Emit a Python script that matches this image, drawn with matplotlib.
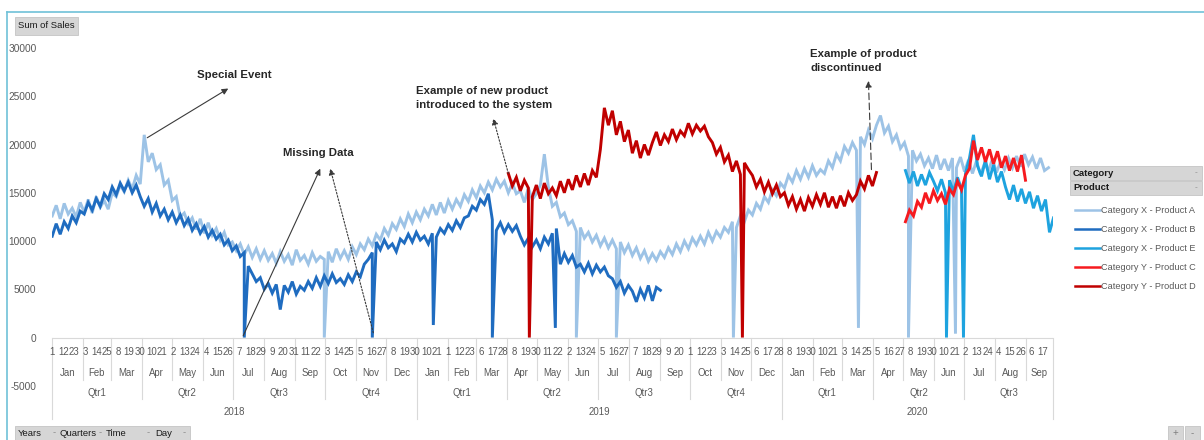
import numpy as np
import pandas as pd
import matplotlib.pyplot as plt
from matplotlib.patches import Rectangle
from matplotlib.lines import Line2D

FONT = ['Liberation Sans Narrow', 'Liberation Sans', 'DejaVu Sans']
plt.rcParams['font.family'] = FONT
plt.rcParams['axes.unicode_minus'] = False

W, H = 1204, 440
START = pd.Timestamp('2018-01-01')
END = pd.Timestamp('2020-09-27')
STEP = 4          # days between readings in each series
GREY = '#595959'

# ─── Sales readings (one value every STEP days from the start date) ─────────────
prod_a_start = '2018-01-01'
prod_a = [
    12600, 13700, 12300, 13900, 12800, 13400, 12500, 14000,
    13000, 14300, 12900, 14600, 13500, 14200, 13300, 15000,
    14600, 15800, 15100, 16300, 15400, 16800, 15900, 21000,
    18200, 19100, 17400, 17900, 15800, 16300, 14200, 14600, 12500, 12900, 11800, 12400,
    11200, 12300, 10800, 11900, 10600, 11300, 10100, 10900, 9600,
    9900, 9000, 9700, 8600, 9400, 8300, 9200, 8100, 9000, 8000,
    8700, 7700, 8900, 7900, 8600, 7500, 9100, 8000, 8500, 7600, 8800, 7900, 8400,
    8100, 8900, 7800, 9200, 8200, 9000, 8100, 9400,
    8600, 9700, 9100, 10200, 9500, 10700, 10100, 11300,
    10600, 11800, 11200, 12300, 11500, 12800, 11900, 13000,
    12200, 13300, 12600, 13800, 12700, 14000, 12900, 14200, 13300,
    14300, 13600, 14800, 14100, 15300, 14500, 15700, 15000,
    16100, 15300, 16400, 15600, 16200, 15000, 16000, 14900,
    15200, 14000, 15500, 14300, 14900, 15800, 19000,
    15600, 13600, 14000, 12500, 12900, 11700, 12100, 11000,
    11400, 10300, 10900, 9900, 10600, 9500, 10300, 9300, 10100,
    9200, 9900, 8800, 9600, 8500, 9300, 8200, 9000, 7900, 8700,
    8000, 8900, 8300, 9300, 8600, 9700, 8900, 10000,
    9200, 10300, 9600, 10500, 9700, 10900, 10000, 11000,
    10400, 11400, 10900, 12000, 11400, 12600, 12000, 13200, 12700,
    13900, 13300, 14600, 14000, 15300, 14700, 16000, 15500,
    16800, 16100, 17300, 16400, 17500, 16600, 17800, 16800,
    17400, 17000, 18300, 17600, 19000, 18300, 19800, 19100,
    20200, 19400, 20800, 20000, 21500, 20600, 22000, 23000,
    21200, 21900, 20300, 21000, 19600, 20200, 18800, 19400, 18300,
    19000, 17800, 18600, 17500, 18900, 17400, 18500, 17300, 18600,
    17600, 18700, 17200, 18400, 17000, 18300, 16900, 18000,
    17300, 18500, 17100, 18200, 17400, 18600, 17600, 18800,
    17700, 19000, 17900, 18700, 17500, 18600, 17300, 17600,
]
prod_a_gaps = ['2018-09-30', '2019-06-09', '2019-07-19', '2019-11-13',
               '2020-03-17', '2020-05-06', '2020-06-22']
prod_a_gap_vals = [0, 0, 0, 0, 1000, 0, 400]

prod_b_start = '2018-01-01'
prod_b = [
    10500, 11800, 10700, 12000, 11300, 12600, 11900, 13100,
    12800, 14000, 13200, 14400, 13600, 14900, 14300, 15600, 14800, 16000,
    15200, 16100, 15000, 15800, 14600, 13600, 14400,
    13000, 13900, 12600, 13300, 12200, 13000, 11900, 12700,
    11600, 12300, 11100, 11800, 10800, 11500, 10400, 11100, 10200,
    10700, 9600, 10100, 9000, 9500, 8400,
    8800, 7400, 6600, 5800, 6200, 5000, 5600,
    4600, 5500, 2900, 5400, 4700, 5800, 4500, 5300, 4900,
    5800, 5100, 6200, 5300, 6400, 5600, 6600, 5700,
    6100, 5500, 6500, 5800, 6800, 6300, 7600, 8100,
    8800, 9900, 9100, 10100, 9300, 9700, 8900, 10200,
    9800, 10700, 9900, 10900, 10100, 10500, 9700, 10800,
    10400, 11300, 10800, 11700, 11100, 12100, 11400, 12400,
    12600, 13600, 13200, 14300, 13800, 14900,
    12200, 11100, 11900, 10900, 11700, 11000, 11600,
    10500, 9600, 10300, 9400, 10100, 9200, 10400, 9700,
    10800, 11300,
    7600, 8700, 7800, 8500, 7300,
    7600, 6800, 7700, 6600, 7500, 6800, 7300, 6400,
    6100, 5200, 5800, 4600, 5400, 4800,
    3700, 5000, 4100, 5400, 3800, 5200, 4900,
]
prod_b_gaps = ['2018-07-12', '2018-11-17', '2019-01-17', '2019-03-17', '2019-05-19']
prod_b_gap_vals = [0, 0, 1300, 0, 1000]

prod_d_start = '2019-04-02'
prod_d = [
    17000, 15700, 16600, 15200, 16300, 15500,
    14600, 15800, 14400, 16000, 14900, 15500, 14700, 16200,
    15000, 16400, 15300, 16800, 15600, 17000, 15800, 17300,
    16600, 19500, 23800, 22000, 23500,
    21000, 22400, 20300, 21500,
    19100, 20400, 18600, 20000, 18900,
    20200, 21300, 19900, 21000, 20300, 21600, 20500, 21400,
    20900, 22200, 21100, 22000, 21400, 21900, 20800,
    20200, 19000, 19700, 18200, 18900,
    17200, 18300, 16900, 18100, 17400,
    16800, 15600, 16400, 15100, 16100, 14900, 15800, 14600,
    15000, 13700, 14600, 13300, 14300, 13100,
    14500, 13600, 14800, 13800, 15000, 13500, 14600,
    13400, 14700, 13600, 15000, 14200,
    14800, 16200, 15400, 16800, 15700, 17100,
]
prod_d_gaps = ['2019-04-23', '2019-11-22']
prod_d_gap_vals = [0, 0]

prod_c_start = '2020-05-03'
prod_c = [
    12000, 13200, 12600, 14100, 13500,
    15000, 13900, 15200, 14200, 14900, 13800, 15400,
    14800, 16200, 15300, 16800,
    17500, 20400,
    18400, 19700, 18200, 19500, 18000, 19300,
    17600, 18800, 17300, 18600, 17200, 18900, 16300,
]

prod_e_start = '2020-05-03'
prod_e = [
    17300, 16000, 17200, 15700, 16900, 15800, 17100, 16200,
    15200, 16400, 15000, 16300, 15100, 16600, 15400, 17000,
    18600, 21000,
    17800, 16700, 18400, 16400, 17900, 16100, 17200,
    15600, 14300, 15800, 14100, 15400, 13900, 15100,
    13400, 14700, 13100, 14300, 10900, 12400,
]
prod_e_gaps = ['2020-06-13', '2020-06-30']
prod_e_gap_vals = [0, 0]

series_names = ['Category X - Product A', 'Category X - Product B',
                'Category X - Product E', 'Category Y - Product C',
                'Category Y - Product D']
series_colors = ['#9dc3e6', '#1f6cc0', '#1ea3df', '#f61a1f', '#c00000']


def day_of(d):
    return (pd.Timestamp(d) - START).days


def series_xy(start, values, gaps=(), gap_vals=()):
    days = day_of(start) + STEP * np.arange(len(values))
    vals = np.asarray(values, float)
    if len(gaps):
        days = np.concatenate([days, [day_of(g) for g in gaps]])
        vals = np.concatenate([vals, gap_vals])
        order = np.argsort(days, kind='stable')
        days, vals = days[order], vals[order]
    return days, vals


fig = plt.figure(figsize=(W / 100, H / 100), dpi=100)


def fx(px):
    return px / W


def fy(py):
    return 1 - py / H


ax_left, ax_right, ax_top, ax_bot = 51.7, 1053, 48, 385.8
ax = fig.add_axes([fx(ax_left), fy(ax_bot), fx(ax_right - ax_left), (ax_bot - ax_top) / H])
n_days = day_of(END) + 1
ax.set_xlim(-0.5, n_days - 0.5)
ax.set_ylim(-5000, 30000)
for s in ax.spines.values():
    s.set_visible(False)
ax.set_xticks([])
ax.set_yticks(range(-5000, 30001, 5000))
ax.tick_params(axis='y', length=0, pad=11, labelsize=7.3, labelcolor=GREY)

# ─── Series ──────────────────────────────────────────────────────────────────────
data = [
    series_xy(prod_a_start, prod_a, prod_a_gaps, prod_a_gap_vals),
    series_xy(prod_b_start, prod_b, prod_b_gaps, prod_b_gap_vals),
    series_xy(prod_e_start, prod_e, prod_e_gaps, prod_e_gap_vals),
    series_xy(prod_c_start, prod_c),
    series_xy(prod_d_start, prod_d, prod_d_gaps, prod_d_gap_vals),
]
for (d, v), c in zip(data, series_colors):
    ax.plot(d, v, color=c, lw=2.1, solid_joinstyle='miter')

ax.axhline(0, color='#d9d9d9', lw=0.8, zorder=0)

# ─── Multi-level category axis: day / month / quarter / year ────────────────────
row_day, row_mon, row_qtr, row_yr = -1450, -3650, -5750, -7700
depth_mon, depth_qtr, depth_yr = -4400, -6400, -8450
lab = dict(color=GREY, ha='center', va='center', clip_on=False)

for t in pd.date_range(START, END, freq='11D'):
    ax.text(day_of(t), row_day, str(t.day), fontsize=6.9, **lab)

months = pd.date_range(START, END, freq='MS')
for m in months:
    m_end = min(m + pd.offsets.MonthEnd(0), END)
    ax.text((day_of(m) + day_of(m_end)) / 2, row_mon, m.strftime('%b'), fontsize=6.9, **lab)
    depth = depth_yr if m.month == 1 else (depth_qtr if m.month in (4, 7, 10) else depth_mon)
    ax.plot([day_of(m) - 0.5] * 2, [0, depth], color='#d9d9d9', lw=0.8, clip_on=False)
ax.plot([n_days - 0.5] * 2, [0, depth_yr], color='#d9d9d9', lw=0.8, clip_on=False)

for q in pd.date_range(START, END, freq='QS'):
    q_end = min(q + pd.offsets.QuarterEnd(0), END)
    ax.text((day_of(q) + day_of(q_end)) / 2, row_qtr, f'Qtr{q.quarter}', fontsize=6.9, **lab)

for y in pd.date_range(START, END, freq='YS'):
    y_end = min(y + pd.offsets.YearEnd(0), END)
    ax.text((day_of(y) + day_of(y_end)) / 2, row_yr, str(y.year), fontsize=6.9, **lab)

# ─── Annotations ─────────────────────────────────────────────────────────────────
note = dict(fontsize=8.2, fontweight='bold', color='#262626', clip_on=False)


def arrow(tail, head, ls='-'):
    ax.annotate('', xy=head, xytext=tail,
                arrowprops=dict(arrowstyle='-|>', color='#3a3a3a', lw=0.8,
                                linestyle=ls, mutation_scale=9, shrinkA=0, shrinkB=0))


ax.text(182, 27250, 'Special Event', ha='center', va='center', **note)
arrow((95, 20700), (176, 25800))

ax.text(266, 19100, 'Missing Data', ha='center', va='center', **note)
arrow((191, 200), (268, 17500))
arrow((321, 500), (278, 17500), ls=(0, (1.5, 1.5)))

ax.text(364, 24850, 'Example of new product\nintroduced to the system',
        ha='left', va='center', linespacing=1.45, **note)
arrow((456, 17000), (441, 22700), ls=(0, (1.5, 1.5)))

ax.text(758, 28650, 'Example of product\ndiscontinued',
        ha='left', va='center', linespacing=1.45, **note)
arrow((819, 17400), (816, 26600), ls=(0, (6, 3)))

# ─── Pivot-chart frame, field buttons and legend ────────────────────────────────
fig.add_artist(Line2D([fx(7), fx(7)], [fy(12), fy(H + 5)], color='#70c1d8', lw=1.2))
fig.add_artist(Line2D([fx(7), fx(W + 5)], [fy(12), fy(12)], color='#70c1d8', lw=1.2))


def button(x0, y0, x1, y1):
    fig.add_artist(Rectangle((fx(x0), fy(y1)), fx(x1 - x0), (y1 - y0) / H,
                             facecolor='#d6d6d6', edgecolor='#c4c4c4', lw=0.6))


button(15, 17, 78, 35)
fig.text(fx(18), fy(26), 'Sum of Sales', fontsize=6.8, color='#1a1a1a', va='center')

button(15, 426, 190, 445)
for name, x_name, x_mark in [('Years', 18, 53), ('Quarters', 59, 99),
                             ('Time', 106, 147), ('Day', 155, 183)]:
    fig.text(fx(x_name), fy(433), name, fontsize=6.8, color='#1a1a1a', va='center')
    fig.text(fx(x_mark), fy(433), '-', fontsize=6.8, color='#8c8c8c', va='center')

button(1168, 426, 1183, 441)
button(1185, 426, 1200, 441)
fig.text(fx(1175.5), fy(433), '+', fontsize=7, color='#7f7f7f', ha='center', va='center')
fig.text(fx(1192.5), fy(433), '-', fontsize=7, color='#7f7f7f', ha='center', va='center')

button(1070, 166, 1202, 180)
button(1070, 181, 1202, 195)
fig.text(fx(1073), fy(173), 'Category', fontsize=6.8, fontweight='bold', color='#1a1a1a', va='center')
fig.text(fx(1073), fy(188), 'Product', fontsize=6.8, fontweight='bold', color='#1a1a1a', va='center')
fig.text(fx(1195), fy(173), '-', fontsize=6, color='#8c8c8c', va='center')
fig.text(fx(1195), fy(188), '-', fontsize=6, color='#8c8c8c', va='center')

for i, (name, c) in enumerate(zip(series_names, series_colors)):
    py = 210 + i * 19
    fig.add_artist(Line2D([fx(1075), fx(1100)], [fy(py), fy(py)], color=c, lw=1.8))
    fig.text(fx(1101), fy(py), name, fontsize=6.6, color=GREY, va='center')

fig.savefig('out.png', dpi=100, facecolor='white')
